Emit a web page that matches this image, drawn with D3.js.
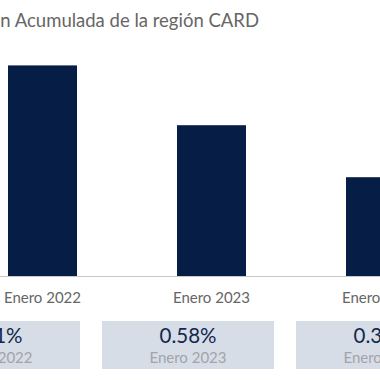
<!DOCTYPE html>
<html>
<head>
<meta charset="utf-8">
<script src="https://cdn.jsdelivr.net/npm/d3@7"></script>
<style>
  body { margin: 0; background: #fff; }
  svg { display: block; font-family: Lato, "Noto Sans", sans-serif; }
</style>
</head>
<body>
<svg id="chart" width="380" height="380"></svg>
<script>
// data
const categories = ["Enero 2022", "Enero 2023", "Enero 2024"];
const values = [0.81, 0.58, 0.38];
const valueLabels = ["0.81%", "0.58%", "0.38%"];
const title = "Inflación Acumulada de la región CARD";

const svg = d3.select('#chart');
const width = +svg.attr('width');

const x = d3.scaleBand()
    .domain(categories)
    .range([8, 8 + 2 * 169 + 69])
    .paddingInner(100 / 169)
    .paddingOuter(0);

const y = d3.scaleLinear().domain([0, 1]).range([276, 16]);

// title (left part is cut off like the original)
svg.append('text')
    .attr('x', 259).attr('y', 27)
    .attr('text-anchor', 'end')
    .attr('fill', '#666')
    .style('font-size', '18.5px')
    .text(title);

// bars
svg.selectAll('rect.bar')
    .data(values)
    .enter().append('rect')
    .attr('class', 'bar')
    .attr('x', (d, i) => x(categories[i]))
    .attr('width', x.bandwidth())
    .attr('y', d => y(d))
    .attr('height', d => y(0) - y(d))
    .attr('fill', '#061d45');

// baseline
svg.append('line')
    .attr('x1', 0).attr('x2', width)
    .attr('y1', y(0) + 0.5).attr('y2', y(0) + 0.5)
    .attr('stroke', '#c8c8c8');

// category labels
svg.selectAll('text.cat')
    .data(categories)
    .enter().append('text')
    .attr('class', 'cat')
    .attr('x', d => x(d) + x.bandwidth() / 2)
    .attr('y', 303)
    .attr('text-anchor', 'middle')
    .attr('fill', '#666')
    .style('font-size', '15px')
    .text(d => d);

// value boxes
const bx = d3.scaleBand()
    .domain(categories)
    .range([-92, -92 + 2 * 194 + 172])
    .paddingInner(22 / 194)
    .paddingOuter(0);

const box = svg.selectAll('g.box')
    .data(categories)
    .enter().append('g')
    .attr('class', 'box')
    .attr('transform', d => `translate(${bx(d)},321)`);

box.append('rect')
    .attr('width', bx.bandwidth())
    .attr('height', 48)
    .attr('fill', '#d7dde6');

box.append('text')
    .attr('x', bx.bandwidth() / 2)
    .attr('y', 21.5)
    .attr('text-anchor', 'middle')
    .attr('fill', '#13284f')
    .style('font-size', '20.5px')
    .text((d, i) => valueLabels[i]);

box.append('text')
    .attr('x', bx.bandwidth() / 2)
    .attr('y', 41.5)
    .attr('text-anchor', 'middle')
    .attr('fill', '#a0a4ab')
    .style('font-size', '15px')
    .text(d => d);
</script>
</body>
</html>
